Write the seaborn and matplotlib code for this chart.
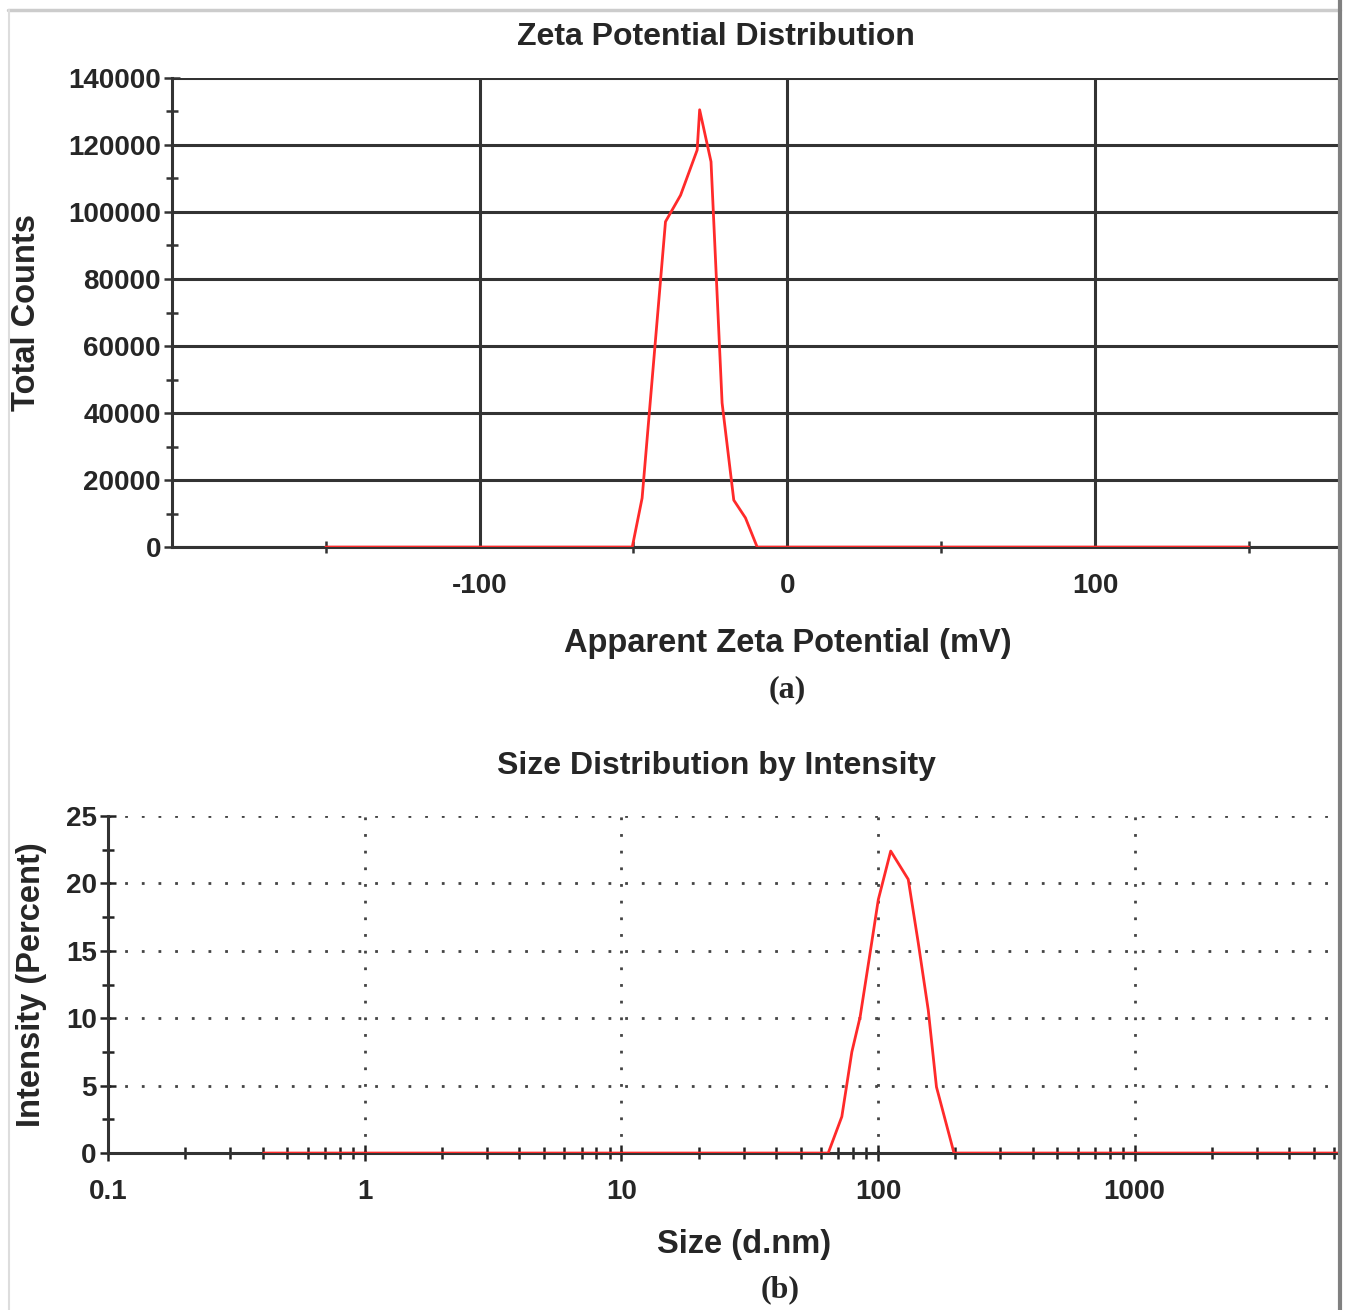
import numpy as np
import pandas as pd
import matplotlib
matplotlib.use("Agg")
import matplotlib.pyplot as plt
import seaborn as sns
from matplotlib.ticker import FixedLocator, NullFormatter, LogLocator
from matplotlib.lines import Line2D

# ---------------- data ----------------
zeta_mv = [-150, -50.4, -47.2, -39.6, -34.7, -29.3, -28.5, -24.8, -21.2, -17.4, -13.6, -9.8, 150]
zeta_counts = [0, 0, 14600, 97100, 105000, 118500, 130500, 115000, 43000, 14000, 8700, 0, 0]

size_nm = [0.404, 64.0, 72.3, 79.1, 85.2, 94.5, 100.3, 112.1, 131.2, 143.5, 157.0, 169.0, 197.8, 6200]
intensity_pct = [0, 0, 2.7, 7.5, 10.1, 15.6, 18.8, 22.4, 20.3, 15.6, 10.6, 4.9, 0, 0]

zeta_xticks = [-100, 0, 100]
zeta_xticklabels = ["-100", "0", "100"]
zeta_yticks = [0, 20000, 40000, 60000, 80000, 100000, 120000, 140000]
size_xticks = [0.1, 1, 10, 100, 1000]
size_xticklabels = ["0.1", "1", "10", "100", "1000"]
size_yticks = [0, 5, 10, 15, 20, 25]

df_z = pd.DataFrame({"mv": zeta_mv, "counts": zeta_counts})
df_s = pd.DataFrame({"size": size_nm, "int": intensity_pct})

sns.set_style("white")
plt.rcParams["font.family"] = ["Liberation Sans", "DejaVu Sans"]

fig = plt.figure(figsize=(13.48, 13.10), dpi=100)

# ---------------- top panel ----------------
ax1 = fig.add_axes([0.1276, 0.5824, 0.9926 - 0.1276, 0.3581])
sns.lineplot(data=df_z, x="mv", y="counts", ax=ax1, color="#ff2a2a", linewidth=2.0,
             zorder=5, estimator=None, sort=False)
ax1.set_xlim(-200, 179)
ax1.set_ylim(0, 140000)
ax1.xaxis.set_major_locator(FixedLocator(zeta_xticks))
ax1.set_xticklabels(zeta_xticklabels)
ax1.xaxis.set_minor_locator(FixedLocator([-150, -50, 50, 150]))
ax1.yaxis.set_major_locator(FixedLocator(zeta_yticks))
ax1.set_yticklabels([str(v) for v in zeta_yticks])
ax1.yaxis.set_minor_locator(FixedLocator(list(range(10000, 140000, 20000))))
ax1.grid(True, which="major", color="#333333", linewidth=2.2, linestyle="-")
for s in ["top", "right"]:
    ax1.spines[s].set_visible(False)
for s in ["left", "bottom"]:
    ax1.spines[s].set_color("#333333")
    ax1.spines[s].set_linewidth(2.2)
ax1.tick_params(axis="both", which="both", direction="inout", color="#333333", width=1.8,
                bottom=True, left=True)
ax1.tick_params(axis="y", which="major", length=12, labelsize=20, pad=2)
ax1.tick_params(axis="y", which="minor", length=9)
ax1.tick_params(axis="x", which="major", length=0, labelsize=20, pad=19)
ax1.tick_params(axis="x", which="minor", length=9)
for lab in ax1.get_xticklabels() + ax1.get_yticklabels():
    lab.set_fontweight("bold")
ax1.set_xlabel("Apparent Zeta Potential (mV)", fontsize=23.5, fontweight="bold")
ax1.xaxis.set_label_coords((788 - 172) / 1166, -0.173)
ax1.set_ylabel("Total Counts", fontsize=23.5, fontweight="bold")
ax1.yaxis.set_label_coords((42 - 172) / 1166, 0.5)
ax1.set_title("Zeta Potential Distribution", fontsize=23, pad=24, fontweight="bold",
              x=(716 - 172) / 1166)

fig.text(787 / 1348, 1 - 690 / 1310, "(a)", ha="center", va="center",
         fontsize=23, fontweight="bold", family=["Liberation Serif", "DejaVu Serif"])

# ---------------- bottom panel ----------------
ax2 = fig.add_axes([0.0801, 0.1198, 0.9926 - 0.0801, 0.2573])
sns.lineplot(data=df_s, x="size", y="int", ax=ax2, color="#ff2a2a", linewidth=2.0,
             zorder=5, estimator=None, sort=False)
ax2.set_xscale("log")
ax2.set_xlim(0.1, 6200)
ax2.set_ylim(0, 25)
ax2.xaxis.set_major_locator(FixedLocator(size_xticks))
ax2.set_xticklabels(size_xticklabels)
ax2.xaxis.set_minor_locator(LogLocator(base=10, subs=np.arange(2, 10), numticks=20))
ax2.xaxis.set_minor_formatter(NullFormatter())
ax2.yaxis.set_major_locator(FixedLocator(size_yticks))
ax2.set_yticklabels([str(v) for v in size_yticks])
ax2.yaxis.set_minor_locator(FixedLocator([2.5, 7.5, 12.5, 17.5, 22.5]))
ax2.grid(True, which="major", color="#444444", linewidth=2.0, linestyle=(0, (1, 5)))
for s in ["top", "right"]:
    ax2.spines[s].set_visible(False)
for s in ["left", "bottom"]:
    ax2.spines[s].set_color("#333333")
    ax2.spines[s].set_linewidth(2.2)
ax2.tick_params(axis="both", which="both", direction="inout", color="#222222", width=1.8,
                bottom=True, left=True)
ax2.tick_params(axis="both", which="major", length=12, labelsize=20)
ax2.tick_params(axis="both", which="minor", length=8)
ax2.tick_params(axis="x", which="major", pad=13)
ax2.tick_params(axis="y", which="major", pad=2)
for lab in ax2.get_xticklabels() + ax2.get_yticklabels():
    lab.set_fontweight("bold")
ax2.set_xlabel("Size (d.nm)", fontsize=23.5, fontweight="bold")
ax2.xaxis.set_label_coords((744 - 108) / 1230, -0.225)
ax2.set_ylabel("Intensity (Percent)", fontsize=23.5, fontweight="bold")
ax2.yaxis.set_label_coords((47 - 108) / 1230, 0.5)
ax2.set_title("Size Distribution by Intensity", fontsize=23, pad=30, fontweight="bold",
              x=(716 - 108) / 1230)

fig.text(780 / 1348, 1 - 1290 / 1310, "(b)", ha="center", va="center",
         fontsize=23, fontweight="bold", family=["Liberation Serif", "DejaVu Serif"])

# frame lines of the original picture
fig.add_artist(Line2D([8 / 1348, 1340 / 1348], [1 - 10 / 1310, 1 - 10 / 1310],
                      transform=fig.transFigure, color="#cccccc", linewidth=2.5))
fig.add_artist(Line2D([9 / 1348, 9 / 1348], [0, 1 - 10 / 1310],
                      transform=fig.transFigure, color="#dddddd", linewidth=1.5))
fig.add_artist(Line2D([1340 / 1348, 1340 / 1348], [0, 1],
                      transform=fig.transFigure, color="#808080", linewidth=3))

fig.savefig("out.png", dpi=100, facecolor="white")
